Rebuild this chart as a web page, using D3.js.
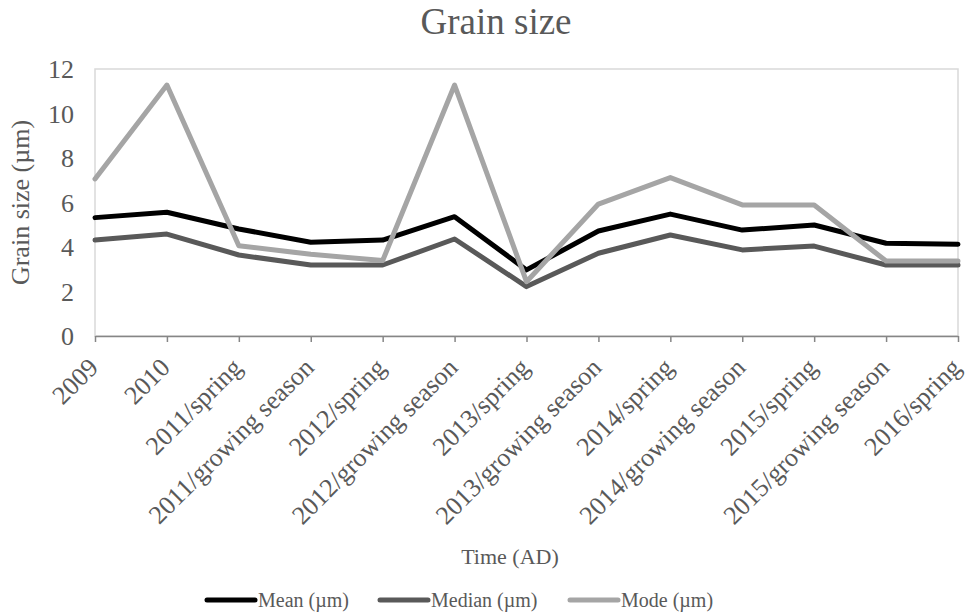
<!DOCTYPE html>
<html>
<head>
<meta charset="utf-8">
<script src="https://cdn.jsdelivr.net/npm/d3@7"></script>
<style>
body { margin: 0; background: #fff; }
text { font-family: "Liberation Serif", "Times New Roman", serif; fill: #595959; }
</style>
</head>
<body>
<script>
var width = 970,
	height = 615;

var categories = ['2009', '2010', '2011/spring', '2011/growing season', '2012/spring',
	'2012/growing season', '2013/spring', '2013/growing season', '2014/spring',
	'2014/growing season', '2015/spring', '2015/growing season', '2016/spring'];

var mean = [5.32, 5.56, 4.81, 4.21, 4.31, 5.36, 2.97, 4.72, 5.48, 4.76, 4.99, 4.17, 4.12];
var median = [4.31, 4.58, 3.64, 3.19, 3.19, 4.36, 2.22, 3.72, 4.54, 3.87, 4.04, 3.19, 3.19];
var mode = [7.06, 11.28, 4.06, 3.67, 3.39, 11.28, 2.44, 5.93, 7.12, 5.89, 5.89, 3.37, 3.37];

var yTicks = [0, 2, 4, 6, 8, 10, 12];

var series = [
	{ name: 'Mean (µm)', values: mean, color: '#000000' },
	{ name: 'Median (µm)', values: median, color: '#595959' },
	{ name: 'Mode (µm)', values: mode, color: '#a5a5a5' }
];

var margin = { top: 69, right: 12, bottom: 279, left: 95 };
var plotW = width - margin.left - margin.right,
	plotH = height - margin.top - margin.bottom;

var svg = d3.select('body')
	.append('svg')
	.attr('width', width)
	.attr('height', height);

var x = d3.scalePoint()
	.domain(categories)
	.range([0, plotW]);

var y = d3.scaleLinear()
	.domain([0, 12])
	.range([plotH, 0]);

var g = svg.append('g')
	.attr('transform', 'translate(' + margin.left + ',' + margin.top + ')');

// plot area border
g.append('rect')
	.attr('x', 0)
	.attr('y', 0)
	.attr('width', plotW)
	.attr('height', plotH)
	.attr('fill', 'none')
	.attr('stroke', '#d9d9d9')
	.attr('stroke-width', 1.5);

// y axis labels (no line)
var yAxis = g.append('g')
	.call(d3.axisLeft(y).tickValues(yTicks).tickSize(0).tickPadding(21));
yAxis.select('.domain').remove();
yAxis.selectAll('text')
	.style('font-size', '26px')
	.attr('fill', '#595959')
	.attr('dy', '0.34em');

// x axis
var xAxis = g.append('g')
	.attr('transform', 'translate(0,' + plotH + ')')
	.call(d3.axisBottom(x).tickSize(6).tickSizeOuter(0).tickPadding(4));
xAxis.select('.domain')
	.attr('stroke', '#868686')
	.attr('stroke-width', 1.5);
xAxis.selectAll('.tick line')
	.attr('stroke', '#868686')
	.attr('stroke-width', 1.5);
xAxis.selectAll('text')
	.style('font-size', '26px')
	.attr('fill', '#595959')
	.attr('text-anchor', 'end')
	.attr('dy', '0')
	.attr('transform', 'translate(-3,26) rotate(-45)');

// lines
var line = d3.line()
	.x(function(d, i) { return x(categories[i]); })
	.y(function(d) { return y(d); });

g.selectAll('.series')
	.data(series)
	.enter()
	.append('path')
	.attr('class', 'series')
	.attr('d', function(d) { return line(d.values); })
	.attr('fill', 'none')
	.attr('stroke', function(d) { return d.color; })
	.attr('stroke-width', 5)
	.attr('stroke-linejoin', 'round')
	.attr('stroke-linecap', 'round');

// titles
svg.append('text')
	.attr('x', 496)
	.attr('y', 34)
	.attr('text-anchor', 'middle')
	.style('font-size', '37px')
	.text('Grain size');

svg.append('text')
	.attr('transform', 'translate(29,' + (margin.top + plotH / 2) + ') rotate(-90)')
	.attr('text-anchor', 'middle')
	.style('font-size', '26px')
	.text('Grain size (µm)');

svg.append('text')
	.attr('x', 510)
	.attr('y', 564)
	.attr('text-anchor', 'middle')
	.style('font-size', '22px')
	.text('Time (AD)');

// legend
var legendX = [205, 378, 568];
var legend = svg.selectAll('.legend')
	.data(series)
	.enter()
	.append('g')
	.attr('class', 'legend')
	.attr('transform', function(d, i) { return 'translate(' + legendX[i] + ',600)'; });

legend.append('line')
	.attr('x1', 2)
	.attr('x2', 50)
	.attr('y1', 0)
	.attr('y2', 0)
	.attr('stroke', function(d) { return d.color; })
	.attr('stroke-width', 5)
	.attr('stroke-linecap', 'round');

legend.append('text')
	.attr('x', 53)
	.attr('y', 7)
	.style('font-size', '20px')
	.text(function(d) { return d.name; });
</script>
</body>
</html>
